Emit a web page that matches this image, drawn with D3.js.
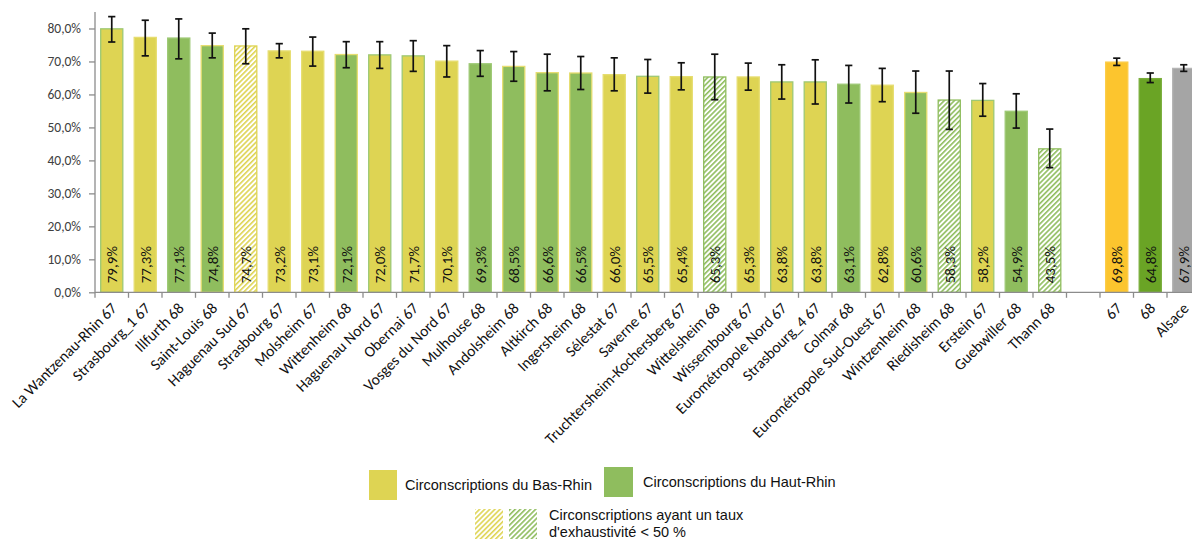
<!DOCTYPE html>
<html>
<head>
<meta charset="utf-8">
<script src="https://cdn.jsdelivr.net/npm/d3@7"></script>
<style>
  html, body { margin: 0; padding: 0; background: #fff; }
  svg { display: block; }
</style>
</head>
<body>
<svg id="chart" width="1192" height="539"></svg>
<script>
// ---------- data ----------
const categories = [
  "La Wantzenau-Rhin 67", "Strasbourg_1 67", "Illfurth 68", "Saint-Louis 68", "Haguenau Sud 67",
  "Strasbourg 67", "Molsheim 67", "Wittenheim 68", "Haguenau Nord 67", "Obernai 67",
  "Vosges du Nord 67", "Mulhouse 68", "Andolsheim 68", "Altkirch 68", "Ingersheim 68",
  "Sélestat 67", "Saverne 67", "Truchtersheim-Kochersberg 67", "Wittelsheim 68", "Wissembourg 67",
  "Eurométropole Nord 67", "Strasbourg_4 67", "Colmar 68", "Eurométropole Sud-Ouest 67", "Wintzenheim 68",
  "Riedisheim 68", "Erstein 67", "Guebwiller 68", "Thann 68", "", "67", "68", "Alsace"
];
const values = [
  79.9, 77.3, 77.1, 74.8, 74.7, 73.2, 73.1, 72.1, 72.0, 71.7,
  70.1, 69.3, 68.5, 66.6, 66.5, 66.0, 65.5, 65.4, 65.3, 65.3,
  63.8, 63.8, 63.1, 62.8, 60.6, 58.3, 58.2, 54.9, 43.5, null, 69.8, 64.8, 67.9
];
const errLow = [
  75.9, 71.7, 70.8, 71.1, 69.3, 71.1, 68.6, 68.1, 67.9, 67.0,
  65.3, 65.5, 64.0, 61.1, 61.5, 61.1, 60.4, 61.4, 58.4, 61.3,
  58.6, 57.1, 57.4, 57.8, 54.3, 49.4, 53.4, 49.8, 37.8, null, 68.8, 63.6, 67.0
];
const errHigh = [
  83.6, 82.5, 82.9, 78.6, 79.9, 75.4, 77.4, 76.0, 76.0, 76.3,
  74.8, 73.3, 73.0, 72.2, 71.5, 71.1, 70.6, 69.6, 72.2, 69.5,
  69.0, 70.5, 68.8, 67.9, 67.1, 67.1, 63.3, 60.2, 49.5, null, 71.0, 66.5, 69.0
];
// group of each bar: "67" Bas-Rhin, "68" Haut-Rhin, totals
const groups = [
  "67", "67", "68", "68", "67", "67", "67", "68", "67", "67",
  "67", "68", "68", "68", "68", "67", "67", "67", "68", "67",
  "67", "67", "68", "67", "68", "68", "67", "68", "68", null, "tot67", "tot68", "alsace"
];
// bars with completeness < 50 % (hatched)
const lowCompleteness = [
  false, false, false, false, true, false, false, false, false, false,
  false, false, false, false, false, false, false, false, true, false,
  false, false, false, false, false, true, false, false, true, false, false, false, false
];
// outline group of each bar (as seen in the original)
const edges = [
  "68", "67", "68", "67", "67", "67", "67", "67", "68", "68",
  "67", "68", "67", "67", "67", "67", "68", "67", "68", "67",
  "68", "68", "68", "67", "67", "67", "68", "68", "68", null, "tot67", "tot68", "alsace"
];
const yTicks = [0, 10, 20, 30, 40, 50, 60, 70, 80];
const legendItems = ["Circonscriptions du Bas-Rhin", "Circonscriptions du Haut-Rhin"];
const legendHatchText = ["Circonscriptions ayant un taux", "d'exhaustivité < 50 %"];

// ---------- styles ----------
const fillColor = { "67": "#DED453", "68": "#8FBD5E", "tot67": "#FCC52E", "tot68": "#6AA425", "alsace": "#A5A5A5" };
const edgeColor = { "67": "#E6DD70", "68": "#9DC874", "tot67": "#FCCB45", "tot68": "#7AAE3C", "alsace": "#B5B5B5" };
const font = "Carlito, Lato, 'Liberation Sans', sans-serif";
const fmt = v => v.toFixed(1).replace(".", ",") + "%";

const svg = d3.select("#chart");
const defs = svg.append("defs");
["67", "68"].forEach(g => {
  const p = defs.append("pattern")
    .attr("id", "hatch" + g)
    .attr("patternUnits", "userSpaceOnUse")
    .attr("width", 3.6).attr("height", 3.6)
    .attr("patternTransform", "rotate(45)");
  p.append("rect").attr("width", 3.6).attr("height", 3.6).attr("fill", "#fff");
  p.append("rect").attr("x", 0).attr("y", 0).attr("width", 1.6).attr("height", 3.6).attr("fill", fillColor[g]);
});

// ---------- scales ----------
const x0 = 95, yBase = 292.3;
const x = d3.scaleBand().domain(categories.map((c, i) => i)).range([x0, x0 + 33.5 * categories.length])
  .paddingInner(0.34).paddingOuter(0.17);
const y = d3.scaleLinear().domain([0, 85]).range([yBase, 12]);

const data = categories.map((c, i) => ({
  i, name: c, v: values[i], lo: errLow[i], hi: errHigh[i], g: groups[i], hatch: lowCompleteness[i], edge: edges[i]
}));
const bars = data.filter(d => d.v != null);

// ---------- bars ----------
svg.append("g").selectAll("rect").data(bars).join("rect")
  .attr("x", d => x(d.i))
  .attr("y", d => y(d.v))
  .attr("width", x.bandwidth())
  .attr("height", d => y(0) - y(d.v))
  .attr("fill", d => d.hatch ? `url(#hatch${d.g})` : fillColor[d.g])
  .attr("stroke", d => d.hatch ? fillColor[d.g] : edgeColor[d.edge])
  .attr("stroke-width", 1.3);

// ---------- value labels ----------
svg.append("g").selectAll("text").data(bars).join("text")
  .attr("transform", d => `translate(${x(d.i) + x.bandwidth() / 2 + 5.5},${yBase - 9}) rotate(-90)`)
  .attr("font-family", font).attr("font-size", 15).attr("fill", "#111")
  .text(d => fmt(d.v));

// ---------- error bars ----------
const eb = svg.append("g").attr("stroke", "#111").attr("stroke-width", 1.7);
bars.forEach(d => {
  const cx = x(d.i) + x.bandwidth() / 2;
  eb.append("line").attr("x1", cx).attr("x2", cx).attr("y1", y(d.lo)).attr("y2", y(d.hi));
  eb.append("line").attr("x1", cx - 3.6).attr("x2", cx + 3.6).attr("y1", y(d.lo)).attr("y2", y(d.lo));
  eb.append("line").attr("x1", cx - 3.6).attr("x2", cx + 3.6).attr("y1", y(d.hi)).attr("y2", y(d.hi));
});

// ---------- y axis ----------
const yAxis = svg.append("g").attr("transform", `translate(${x0},0)`)
  .call(d3.axisLeft(y).tickValues(yTicks).tickSize(6).tickPadding(8).tickFormat(v => v.toFixed(1).replace(".", ",") + "%"));
yAxis.select(".domain").attr("stroke", "#8c8c8c").attr("stroke-width", 1.3).attr("d", `M0,${y(85)}V${yBase}`);
yAxis.selectAll(".tick line").attr("stroke", "#8c8c8c").attr("stroke-width", 1.3);
yAxis.selectAll(".tick text").attr("font-family", font).attr("font-size", 13.5).attr("fill", "#404040");

// ---------- x axis ----------
const xa = svg.append("g");
xa.append("line").attr("x1", x0).attr("x2", x0 + 33.5 * categories.length)
  .attr("y1", yBase).attr("y2", yBase).attr("stroke", "#8c8c8c").attr("stroke-width", 1.3);
const step = x.step();
d3.range(categories.length + 1).forEach(k => {
  const tx = x0 + k * step;
  xa.append("line").attr("x1", tx).attr("x2", tx).attr("y1", yBase).attr("y2", yBase + 5.5)
    .attr("stroke", "#8c8c8c").attr("stroke-width", 1.3);
});
xa.selectAll("text.cat").data(data.filter(d => d.name)).join("text")
  .attr("class", "cat")
  .attr("transform", d => `translate(${x(d.i) + x.bandwidth() / 2 + 6},${yBase + 17}) rotate(-45)`)
  .attr("text-anchor", "end")
  .attr("font-family", font).attr("font-size", 15.5).attr("fill", "#111")
  .text(d => d.name);

// ---------- legend ----------
const lg = svg.append("g").attr("font-family", "'Liberation Sans', Arial, sans-serif").attr("font-size", 14.5).attr("fill", "#111");
lg.append("rect").attr("x", 369).attr("y", 470).attr("width", 28).attr("height", 30).attr("fill", fillColor["67"]);
lg.append("text").attr("x", 405).attr("y", 490).text(legendItems[0]);
lg.append("rect").attr("x", 604).attr("y", 467).attr("width", 29).attr("height", 30).attr("fill", fillColor["68"]);
lg.append("text").attr("x", 643).attr("y", 487).text(legendItems[1]);
lg.append("rect").attr("x", 475).attr("y", 509).attr("width", 28).attr("height", 30).attr("fill", "url(#hatch67)");
lg.append("rect").attr("x", 509).attr("y", 509).attr("width", 28).attr("height", 30).attr("fill", "url(#hatch68)");
lg.append("text").attr("x", 549).attr("y", 520).text(legendHatchText[0]);
lg.append("text").attr("x", 549).attr("y", 537).text(legendHatchText[1]);
</script>
</body>
</html>
